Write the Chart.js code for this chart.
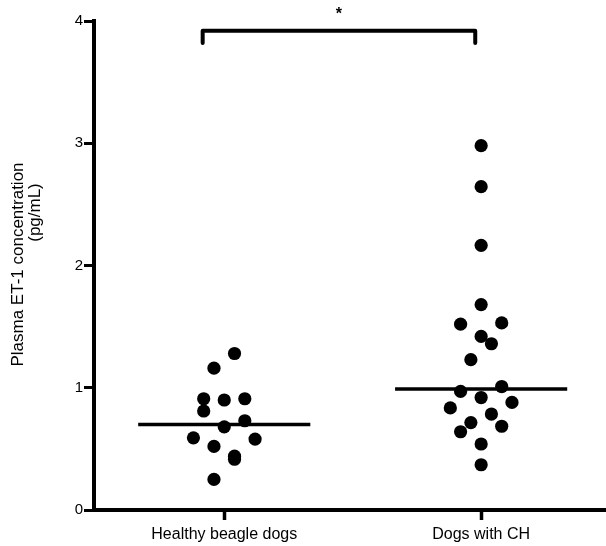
<!DOCTYPE html>
<html>
<head>
<meta charset="utf-8">
<script src="https://cdn.jsdelivr.net/npm/chart.js@4.4.1/dist/chart.umd.min.js"></script>
<style>
  html, body { margin: 0; padding: 0; background: #fff; }
  #wrap { width: 606px; height: 546px; position: relative; }
</style>
</head>
<body>
<div id="wrap"><canvas id="c"></canvas></div>
<script>
// ---- data ----
const categories = ['Healthy beagle dogs', 'Dogs with CH'];
const yTicks = [0, 1, 2, 3, 4];
const yTitle = ['Plasma ET-1 concentration', '(pg/mL)'];

const healthyValues = [1.28, 1.16, 0.91, 0.90, 0.91, 0.81, 0.73, 0.68, 0.59, 0.58, 0.52, 0.44, 0.415, 0.25];
const healthySlots  = [1, -1, -2, 0, 2, -2, 2, 0, -3, 3, -1, 1, 1, -1];

const chValues = [2.98, 2.645, 2.165, 1.68, 1.52, 1.53, 1.42, 1.36, 1.23, 1.01, 0.97, 0.92, 0.88, 0.835, 0.785, 0.715, 0.685, 0.64, 0.54, 0.37];
const chSlots  = [0, 0, 0, 0, -2, 2, 0, 1, -1, 2, -2, 0, 3, -3, 1, -1, 2, -2, 0, 0];

const medians = [0.70, 0.99];
const significance = { from: 0, to: 1, label: '*', level: 3.92, drop: 0.10 };

// ---- layout / style ----
const SLOT = 0.04;       // horizontal spacing of stacked points (category units)
const HALF = 0.335;      // half width of median bar
const FONT = '"Liberation Sans", Arial, Helvetica, sans-serif';

function toPoints(values, slots, catIndex) {
  return values.map((v, i) => ({ x: catIndex + 1 + slots[i] * SLOT, y: v }));
}

const medianSets = medians.map((m, i) => ({
  type: 'line',
  data: [{ x: i + 1 - HALF, y: m }, { x: i + 1 + HALF, y: m }],
  borderColor: '#000', borderWidth: 3.5, pointRadius: 0, showLine: true, fill: false, order: 2
}));

const bx1 = significance.from + 1 - 0.084;
const bx2 = significance.to + 1 - 0.023;
const bracket = {
  type: 'line',
  data: [
    { x: bx1, y: significance.level - significance.drop },
    { x: bx1, y: significance.level },
    { x: bx2, y: significance.level },
    { x: bx2, y: significance.level - significance.drop }
  ],
  borderColor: '#000', borderWidth: 4, pointRadius: 0, showLine: true, fill: false,
  borderCapStyle: 'round', borderJoinStyle: 'round', tension: 0, clip: false, order: 3
};

const extras = {
  id: 'extras',
  afterDraw(chart) {
    const ctx = chart.ctx;
    const xs = chart.scales.x, ys = chart.scales.y;
    ctx.save();
    ctx.fillStyle = '#000';
    // significance asterisk
    ctx.font = 'bold 16px ' + FONT;
    ctx.textAlign = 'center';
    ctx.textBaseline = 'alphabetic';
    const ax = (xs.getPixelForValue(bx1) + xs.getPixelForValue(bx2)) / 2;
    ctx.fillText(significance.label, ax, ys.getPixelForValue(significance.level) - 12);
    // y axis title (two lines, rotated)
    ctx.font = '17px ' + FONT;
    ctx.textBaseline = 'middle';
    const mid = (ys.top + ys.bottom) / 2;
    ctx.translate(18, mid - 1);
    ctx.rotate(-Math.PI / 2);
    ctx.fillText(yTitle[0], 0, 0);
    ctx.fillText(yTitle[1], 52, 17);
    ctx.restore();
  }
};

new Chart(document.getElementById('c'), {
  type: 'scatter',
  data: {
    datasets: [
      {
        label: categories[0], data: toPoints(healthyValues, healthySlots, 0),
        backgroundColor: '#000', borderColor: '#000', borderWidth: 0, pointRadius: 6.6, order: 1
      },
      {
        label: categories[1], data: toPoints(chValues, chSlots, 1),
        backgroundColor: '#000', borderColor: '#000', borderWidth: 0, pointRadius: 6.6, order: 1
      },
      ...medianSets,
      bracket
    ]
  },
  options: {
    responsive: true,
    maintainAspectRatio: false,
    animation: false,
    layout: { padding: { top: 21, right: 0, bottom: 0, left: 0 }, autoPadding: false },
    plugins: { legend: { display: false }, tooltip: { enabled: false }, title: { display: false } },
    scales: {
      x: {
        type: 'linear',
        min: 0.493, max: 2.486,
        afterBuildTicks(scale) { scale.ticks = categories.map((c, i) => ({ value: i + 1 })); },
        afterFit(scale) { scale.height = 36; scale.paddingLeft = 0; scale.paddingRight = 0; },
        ticks: {
          autoSkip: false, maxRotation: 0, color: '#000', padding: 5,
          font: { family: FONT, size: 16 },
          callback: (v) => categories[v - 1] ?? ''
        },
        grid: { drawOnChartArea: false, drawTicks: true, tickLength: 10, tickWidth: 3.5, tickColor: '#000' },
        border: { display: true, color: '#000', width: 4 }
      },
      y: {
        type: 'linear',
        min: yTicks[0], max: yTicks[yTicks.length - 1],
        afterBuildTicks(scale) { scale.ticks = yTicks.map(v => ({ value: v })); },
        afterFit(scale) { scale.width = 94; scale.paddingTop = 0; scale.paddingBottom = 0; },
        ticks: { color: '#000', padding: 1, font: { family: FONT, size: 15 } },
        grid: { drawOnChartArea: false, drawTicks: true, tickLength: 10, tickWidth: 3, tickColor: '#000' },
        border: { display: true, color: '#000', width: 4 }
      }
    }
  },
  plugins: [extras]
});
</script>
</body>
</html>
